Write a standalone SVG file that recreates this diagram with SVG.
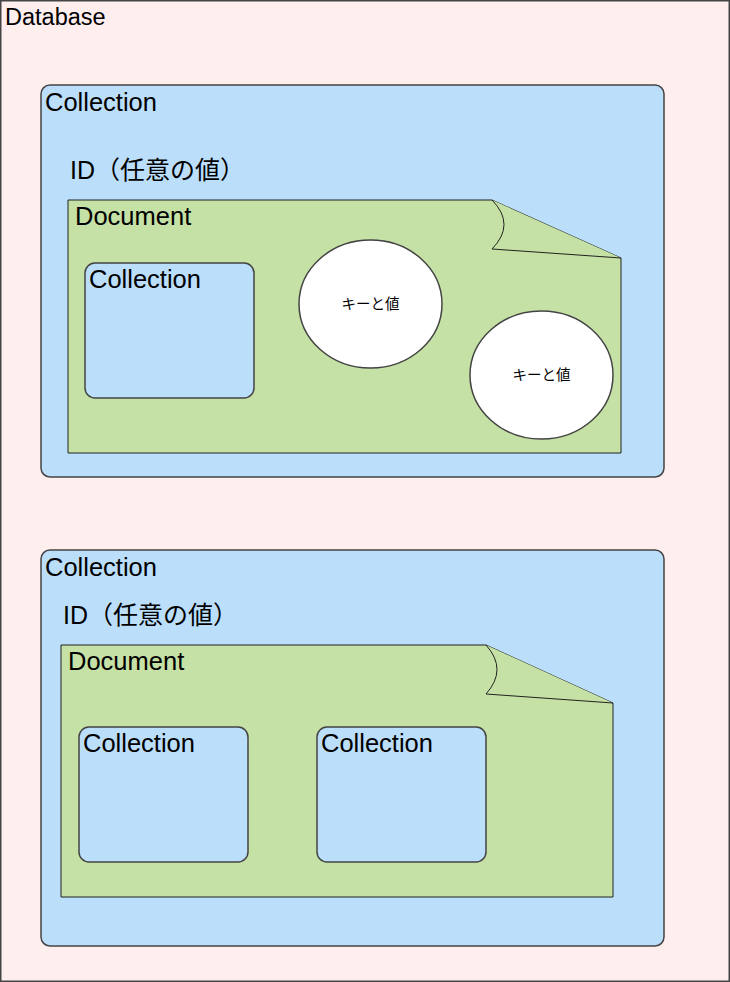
<svg xmlns="http://www.w3.org/2000/svg" width="730" height="982" viewBox="0 0 730 982">
<style>
.t{font-family:"Liberation Sans","Noto Sans CJK JP",Arial,sans-serif;fill:#000}
.coll{fill:#bbdefb;stroke:#444;stroke-width:1.5}
.doc{fill:#c5e1a5;stroke:#222;stroke-width:1}
.kv{fill:#fff;stroke:#444;stroke-width:1.5}
</style>
<g id="database">
<rect x="0.75" y="0.75" width="728.5" height="980.5" fill="#ffeeee" stroke="#444" stroke-width="1.5"/>
<text class="t" x="5" y="25" font-size="23.5">Database</text>
</g>
<g id="collection1">
<rect class="coll" x="41" y="85" width="623" height="392" rx="9"/>
<text class="t" x="45" y="111" font-size="25.5">Collection</text>
<text class="t" x="70" y="179" font-size="25">ID（任意の値）</text>
</g>
<g id="document1">
<path class="doc" d="M68,200 H492 L621,258 V453 H68 Z"/>
<path class="doc" d="M492,200 Q516,224.5 492,249 L621,258"/>
<text class="t" x="75" y="225" font-size="25.5">Document</text>
</g>
<g id="subcollection1">
<rect class="coll" x="85" y="263" width="169" height="135" rx="10"/>
<text class="t" x="89" y="288" font-size="25.5">Collection</text>
</g>
<g id="kv1">
<ellipse class="kv" cx="370.5" cy="304" rx="71.5" ry="64"/>
<text class="t" x="370.5" y="309" font-size="14.5" text-anchor="middle">キーと値</text>
</g>
<g id="kv2">
<ellipse class="kv" cx="541.5" cy="375" rx="71.5" ry="64"/>
<text class="t" x="541.5" y="380" font-size="14.5" text-anchor="middle">キーと値</text>
</g>
<g id="collection2">
<rect class="coll" x="41" y="550" width="623" height="396" rx="9"/>
<text class="t" x="45" y="576" font-size="25.5">Collection</text>
<text class="t" x="63" y="624" font-size="25">ID（任意の値）</text>
</g>
<g id="document2">
<path class="doc" d="M61,645 H486 L613,703 V897 H61 Z"/>
<path class="doc" d="M486,645 Q508,669.5 486,694 L613,703"/>
<text class="t" x="68" y="670" font-size="25.5">Document</text>
</g>
<g id="subcollection2">
<rect class="coll" x="79" y="727" width="169" height="135" rx="10"/>
<text class="t" x="83" y="752" font-size="25.5">Collection</text>
</g>
<g id="subcollection3">
<rect class="coll" x="317" y="727" width="169" height="135" rx="10"/>
<text class="t" x="321" y="752" font-size="25.5">Collection</text>
</g>
<g id="connectors"></g>
</svg>
